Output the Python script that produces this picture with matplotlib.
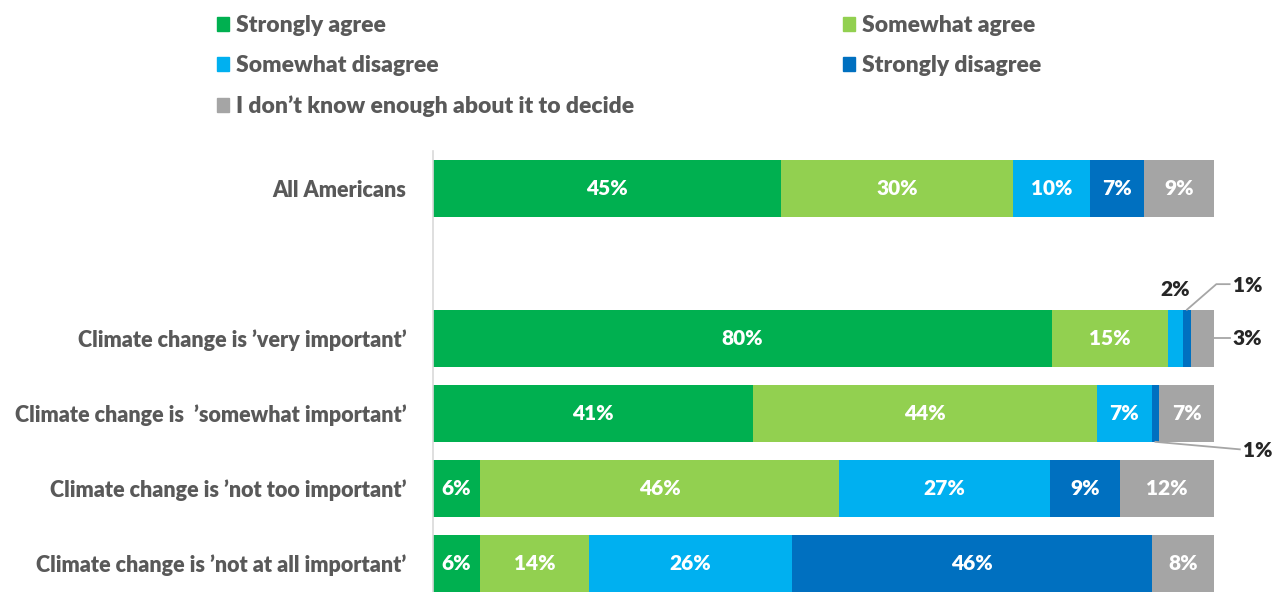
import matplotlib.pyplot as plt
from matplotlib.patches import Patch
import numpy as np

plt.rcParams['font.family'] = ['Lato', 'DejaVu Sans']
plt.rcParams['font.weight'] = 'heavy'

groups = [
    "All Americans",
    "Climate change is \u2019very important\u2019",
    "Climate change is  \u2019somewhat important\u2019",
    "Climate change is \u2019not too important\u2019",
    "Climate change is \u2019not at all important\u2019",
]
group_pos = [0, 2, 3, 4, 5]
categories = ["Strongly agree", "Somewhat agree", "Somewhat disagree",
              "Strongly disagree", "I don\u2019t know enough about it to decide"]
strongly_agree = [45, 80, 41, 6, 6]
somewhat_agree = [30, 15, 44, 46, 14]
somewhat_disagree = [10, 2, 7, 27, 26]
strongly_disagree = [7, 1, 1, 9, 46]
dont_know = [9, 3, 7, 12, 8]

colors = ["#00B050", "#92D050", "#00B0F0", "#0070C0", "#A5A5A5"]
text_gray = "#595959"
W = "heavy"

series = np.array([strongly_agree, somewhat_agree, somewhat_disagree,
                   strongly_disagree, dont_know], dtype=float)
# rows don't all add to exactly 100 because of rounding; scale to full width
scaled = series / series.sum(axis=0) * 100

fig = plt.figure(figsize=(12.75, 5.92), dpi=100)
ax = fig.add_axes([433 / 1275, 0, 781 / 1275, 441.5 / 592])

left = np.zeros(len(groups))
bar_h = 0.76
for i, cat in enumerate(categories):
    ax.barh(group_pos, scaled[i], left=left, height=bar_h, color=colors[i],
            edgecolor="none", label=cat)
    for j, pos in enumerate(group_pos):
        v = series[i, j]
        if v >= 5:
            ax.text(left[j] + scaled[i, j] / 2, pos, f"{int(v)}%", ha="center",
                    va="center", color="white", fontsize=15, fontweight=W)
    left += scaled[i]

ax.set_xlim(0, 100)
ax.set_ylim(5.38, -0.5)
ax.set_yticks(group_pos)
ax.set_yticklabels(groups, fontsize=15.5, color=text_gray, fontweight=W)
ax.tick_params(axis="y", length=0, pad=19)
ax.set_xticks([])
for s in ["top", "right", "bottom"]:
    ax.spines[s].set_visible(False)
ax.spines["left"].set_color("#D9D9D9")
ax.spines["left"].set_linewidth(1.2)

# small segments labelled outside the bars
cum = np.cumsum(scaled, axis=0)
line_kw = dict(color="#A6A6A6", lw=1.3, clip_on=False)
lbl_kw = dict(fontsize=15, fontweight=W, color="#262626", va="center")

# very important: 2% somewhat disagree
mid = cum[1, 1] + scaled[2, 1] / 2
ax.text(mid, 1.35, f"{int(series[2, 1])}%", ha="center", **lbl_kw)
# very important: 1% strongly disagree
mid = cum[2, 1] + scaled[3, 1] / 2
ax.plot([mid, 100.3, 102.0], [2 - bar_h / 2, 1.28, 1.28], **line_kw)
ax.text(102.4, 1.3, f"{int(series[3, 1])}%", ha="left", **lbl_kw)
# very important: 3% don't know
ax.plot([100, 102.0], [2, 2], **line_kw)
ax.text(102.4, 2.0, f"{int(series[4, 1])}%", ha="left", **lbl_kw)
# somewhat important: 1% strongly disagree
mid = cum[2, 2] + scaled[3, 2] / 2
ax.plot([mid, 103.3], [3 + bar_h / 2, 3.48], **line_kw)
ax.text(103.7, 3.49, f"{int(series[3, 2])}%", ha="left", **lbl_kw)

handles = [Patch(color=c) for c in colors]
order = [0, 2, 4, 1, 3]
leg = fig.legend([handles[k] for k in order], [categories[k] for k in order],
                 ncol=2, loc="upper left", bbox_to_anchor=(196 / 1275, 1.009),
                 frameon=False, fontsize=16.5, handlelength=0.55, handleheight=0.55,
                 handletextpad=0.3, labelspacing=0.83, columnspacing=9.1)
for t in leg.get_texts():
    t.set_color(text_gray)
    t.set_fontweight(W)

fig.savefig("out.png", dpi=100)
